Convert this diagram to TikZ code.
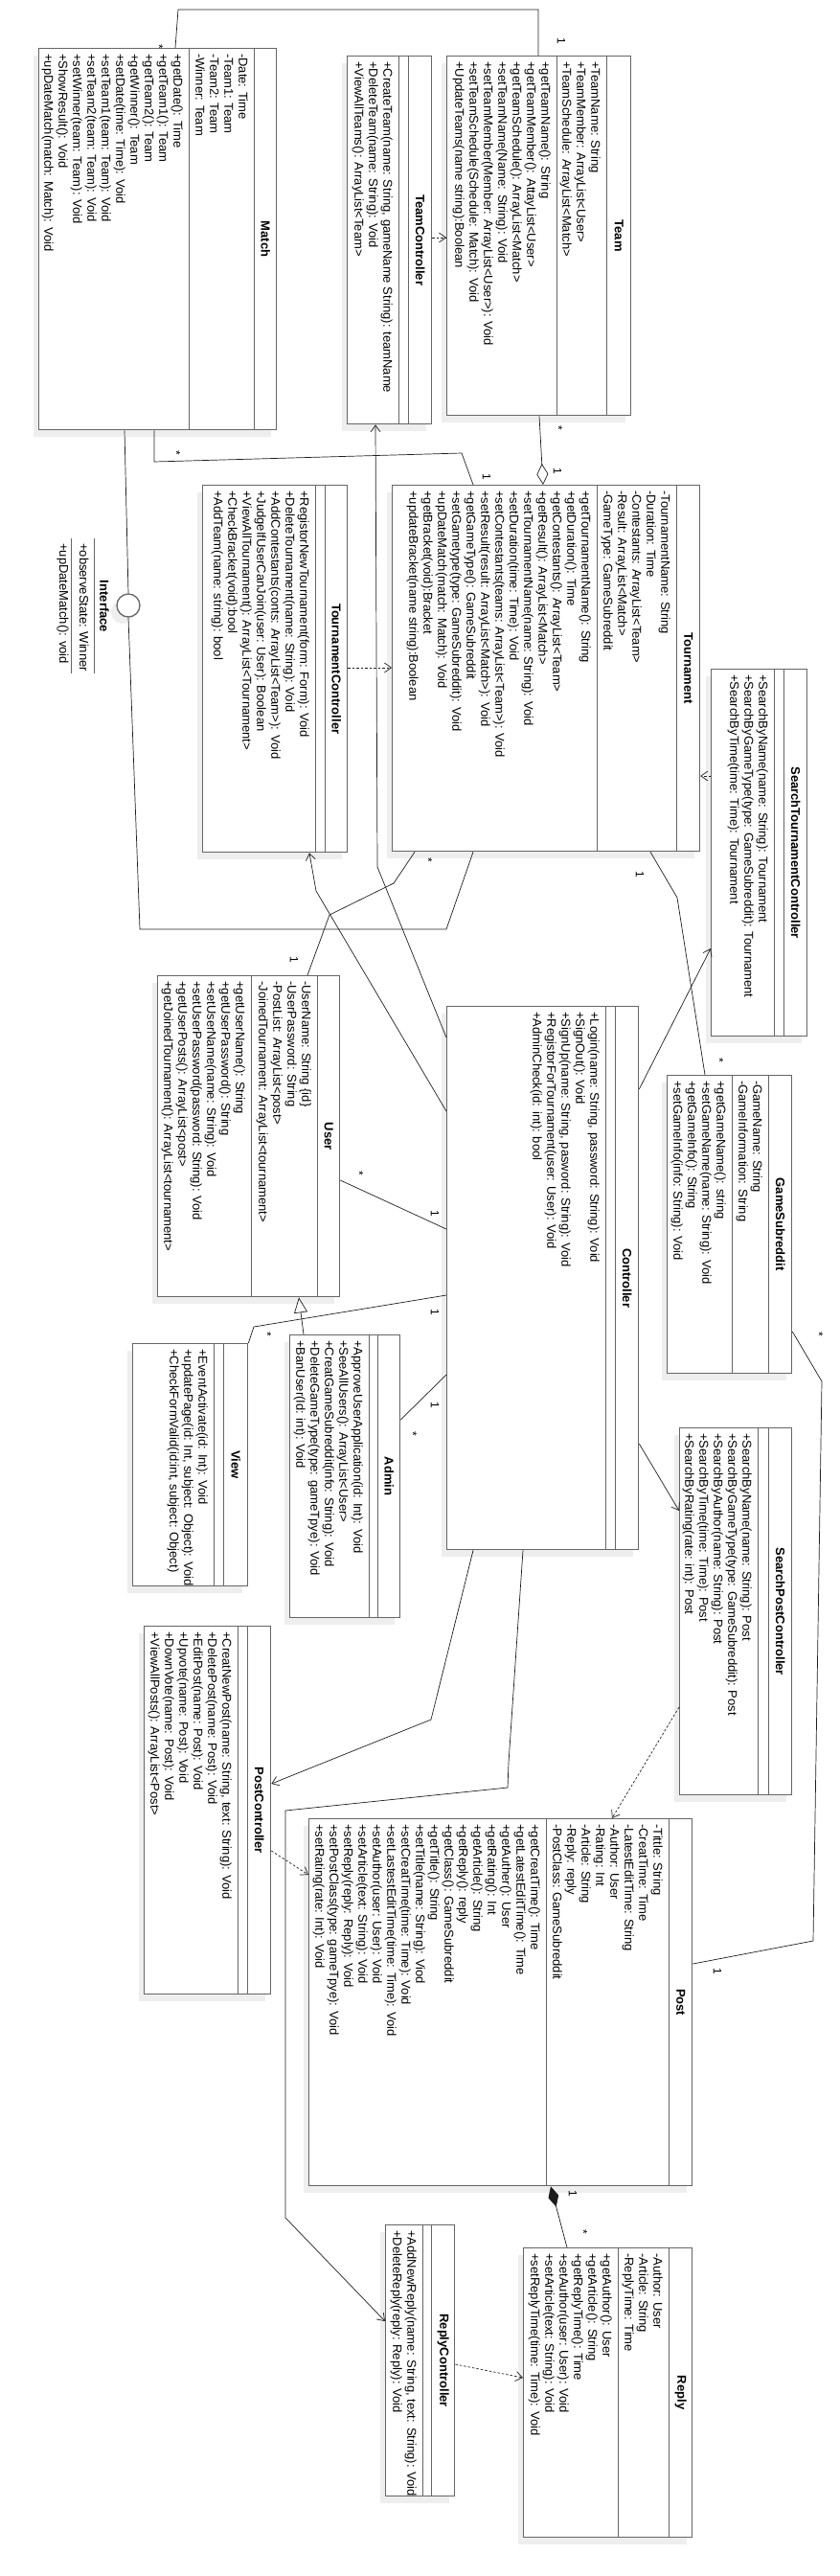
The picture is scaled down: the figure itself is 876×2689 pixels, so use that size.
\documentclass[tikz,border=0pt]{standalone}
\usepackage{fontspec}
\setmainfont{Liberation Sans}
\usetikzlibrary{arrows.meta,calc}

\definecolor{boxline}{HTML}{666666}
\definecolor{boxshade}{HTML}{EEEEEE}
\definecolor{wire}{HTML}{1E1E1E}

% one column of compartment text, rows 15pt apart
\newcommand\ml[1]{\begin{tabular}[t]{@{}l@{}}#1\end{tabular}}
% #1 node, #2 header width, #3 attribute width, #4 name, #5 attributes, #6 operations
\newcommand\umlparts[6]{%
  \draw[sep] ($(#1.north east)+(-#2,0)$) -- ($(#1.south east)+(-#2,0)$);
  \draw[sep] ($(#1.north east)+(-#2-#3,0)$) -- ($(#1.south east)+(-#2-#3,0)$);
  \node[ttl] (#1-name) at ($(#1.east)+(-#2/2,0)$) {#4};
  \node[mem] (#1-attr) at ($(#1.north east)+(-#2-16,-6)$) {\ml{#5}};
  \node[mem] (#1-ops) at ($(#1.north east)+(-#2-#3-16,-6)$) {\ml{#6}};
}

\begin{document}
\begin{tikzpicture}[
      x=1pt, y=1pt,
      cls/.style ={draw=boxline, line width=1.3pt, fill=white, inner sep=0pt,
                   anchor=north west,
                   preaction={fill=boxshade, draw=none,
                              transform canvas={shift={(-6pt,-7pt)}}}},
      sep/.style ={draw=boxline, line width=1.3pt},
      ttl/.style ={rotate=-90, inner sep=0pt, font=\bfseries\fontsize{13}{15}\selectfont},
      mem/.style ={rotate=-90, anchor=base west, inner sep=0pt,
                   font=\fontsize{13}{15}\selectfont},
      mult/.style={rotate=-90, inner sep=0pt, font=\fontsize{12}{14}\selectfont},
      wire/.style={draw=wire, line width=0.7pt},
      nav/.style ={wire, -{Straight Barb[length=7pt,width=10pt]}},
      dep/.style ={nav, dash pattern=on 2.5pt off 2pt}
    ]
    \useasboundingbox (0,0) rectangle (876,-2689);

    % classes
    \node[cls, minimum width=248, minimum height=398] (match) at (40,-50) {};
    \umlparts{match}{24}{68}{Match}
      {-Date: Time\\-Team1: Team\\-Team2: Team\\-Winner: Team}
      {+getDate(): Time\\+getTeam1(): Team\\+getTeam2(): Team\\+getWinner(): Team\\
       +setDate(time: Time): Void\\+setTeam1(team: Team): Void\\+setTeam2(team: Team): Void\\
       +setWinner(team: Team): Void\\+ShowResult(): Void\\+upDateMatch(match: Match): Void}

    \node[cls, minimum width=88, minimum height=384] (teamctl) at (362,-58) {};
    \umlparts{teamctl}{25}{10}{TeamController}{}
      {+CreateTeam(name: String, gameName String): teamName\\
       +DeleteTeam(name: String): Void\\+ViewAllTeams(): ArrayList<Team>}

    \node[cls, minimum width=192, minimum height=375] (team) at (466,-58) {};
    \umlparts{team}{26}{52}{Team}
      {+TeamName: String\\+TeamMember: ArrayList<User>\\+TeamSchedule: ArrayList<Match>}
      {+getTeamName(): String\\+getTeamMember(): AttayList<User>\\
       +getTeamSchedule(): ArrayList<Match>\\+setTeamName(Name: String): Void\\
       +setTeamMember(Member: ArrayList<User>): Void\\
       +setTeamSchedule(Schedule: Match): Void\\+UpdateTeams(name string):Boolean}

    \node[cls, minimum width=151, minimum height=383] (tournctl) at (211,-506) {};
    \umlparts{tournctl}{24}{10}{TournamentController}{}
      {+RegistorNewTournament(form: Form): Void\\+DeleteTournament(name: String): Void\\
       +AddContestants(conts: ArrayList<Team>): Void\\
       +JudgeIfUserCanJoin(user: User): Boolean\\
       +ViewAllTournament(): ArrayList<Tournament>\\+CheckBracket(void):bool\\
       +AddTeam(name: string): bool}

    \node[cls, minimum width=321, minimum height=382] (tourn) at (409,-506) {};
    \umlparts{tourn}{25}{83}{Tournament}
      {-TournamentName: String\\-Duration: Time\\-Contestants: ArrayList<Team>\\
       -Result: ArrayList<Match>\\-GameType: GameSubreddit}
      {+getTournamentName(): String\\+getDuration(): Time\\
       +getContestants(): ArrayList<Team>\\+getResult(): ArrayList<Match>\\
       +setTournamentName(name: String): Void\\+setDuration(time: Time): Void\\
       +setContestants(teams: ArrayList<Team>): Void\\
       +setResult(result: ArrayList<Match>): Void\\+getGameType(): GameSubreddit\\
       +setGametype(type: GameSubreddit): Void\\+upDateMatch(match: Match): Void\\
       +getBracket(void):Bracket\\+updateBracket(name string):Boolean}

    \node[cls, minimum width=100, minimum height=383] (stctl) at (742,-698) {};
    \umlparts{stctl}{25}{10}{SearchTournamentController}{}
      {+SearchByName(name: String): Tournament\\
       +SearchByGameType(type: GameSubreddit): Tournament\\
       +SearchByTime(time: Time): Tournament}

    \node[cls, minimum width=200, minimum height=567] (ctl) at (466,-1050) {};
    \umlparts{ctl}{25}{10}{Controller}{}
      {+Login(name: String, password: String): Void\\+SignOut(): Void\\
       +SignUp(name: String, pasword: String): Void\\
       +RegistorForTournament(user: User): Void\\+AdminCheck(id: int): bool}

    \node[cls, minimum width=190, minimum height=335] (user) at (164,-1018) {};
    \umlparts{user}{24}{69}{User}
      {-UserName: String \{id\}\\-UserPassword: String\\-PostList: ArrayList<post>\\
       -JoinedTournament: ArrayList<tournament>}
      {+getUserName(): String\\+getUserPassword(): String\\
       +setUserName(name: String): Void\\+setUserPassword(password: String): Void\\
       +getUserPosts(): ArrayList<post>\\+getJoinedTournament(): ArrayList<tournament>}

    \node[cls, minimum width=130, minimum height=311] (game) at (696,-1122) {};
    \umlparts{game}{25}{38}{GameSubreddit}
      {-GameName: String\\-GameInformation: String}
      {+getGameName(): string\\+setGameName(name: String): Void\\
       +getGameInfo(): String\\+setGameInfo(info: String): Void}

    \node[cls, minimum width=120, minimum height=253] (view) at (138,-1402) {};
    \umlparts{view}{26}{10}{View}{}
      {+EventActivate(id: Int): Void\\+updatePage(id: Int, subject: Object): Void\\
       +CheckFormValid(id:int, subject: Object)}

    \node[cls, minimum width=115, minimum height=295] (admin) at (302,-1393) {};
    \umlparts{admin}{24}{9}{Admin}{}
      {+ApproveUserApplication(id: Int): Void\\+SeeAllUsers(): ArrayList<User>\\
       +CreatGameSubreddit(info: String): Void\\+DeleteGameType(type: gameTpye): Void\\
       +BanUser(Id: int): Void}

    \node[cls, minimum width=117, minimum height=383] (spctl) at (709,-1490) {};
    \umlparts{spctl}{25}{11}{SearchPostController}{}
      {+SearchByName(name: String): Post\\+SearchByGameType(type: GameSubreddit): Post\\
       +SearchByAuthor(name: String): Post\\+SearchByTime(time: Time): Post\\
       +SearchByRating(rate: int): Post}

    \node[cls, minimum width=132, minimum height=384] (pctl) at (150,-1697) {};
    \umlparts{pctl}{25}{10}{PostController}{}
      {+CreatNewPost(name: String, text: String): Void\\+DeletePost(name: Post): Void\\
       +EditPost(name: Post): Void\\+Upvote(name: Post): Void\\
       +DownVote(name: Post): Void\\+ViewAllPosts(): ArrayList<Post>}

    \node[cls, minimum width=400, minimum height=383] (post) at (322,-1898) {};
    \umlparts{post}{25}{128}{Post}
      {-Tittle: String\\-CreatTime: Time\\-LatestEditTime: String\\-Author: User\\
       -Rating: Int\\-Article: String\\-Reply: reply\\-PostClass: GameSubreddit}
      {+getCreatTime(): Time\\+getLatestEditTime(): Time\\+getAuther(): User\\
       +getRating(): Int\\+getArticle(): String\\+getReply(): reply\\
       +getClass(): GameSubreddit\\+getTitle(): String\\+setTitle(name: String): Viod\\
       +setCreatTime(time: Time): Void\\+setLastestEditTime(time: Time): Void\\
       +setAuthor(user: User): Void\\+setArticle(text: String): Void\\
       +setReply(reply: Reply): Void\\+setPostClass(type: gameTpye): Void\\
       +setRating(rate: Int): Void}

    \node[cls, minimum width=72, minimum height=283] (rctl) at (402,-2322) {};
    \umlparts{rctl}{25}{9}{ReplyController}{}
      {+AddNewReply(name: String, text: String): Void\\+DeleteReply(reply: Reply): Void}

    \node[cls, minimum width=176, minimum height=302] (reply) at (546,-2346) {};
    \umlparts{reply}{25}{53}{Reply}
      {-Author: User\\-Article: String\\-ReplyTime: Time}
      {+getAuthor(): User\\+getArticle(): String\\+getReplyTime(): Time\\
       +setAuthor(user: User): Void\\+setArticle(text: String): Void\\
       +setReplyTime(time: Time): Void}

    % interface lollipop
    \node[cls, anchor=center, circle, minimum size=24] (iface) at (134,-632) {};
    \node[ttl] (iface-name) at (109,-633) {Interface};
    \draw[sep, line width=1pt] (98,-562) -- (98,-703);
    \node[mem] (iface-attr) at (83,-567) {+observeState: Winner};
    \draw[sep, line width=1pt] (74,-562) -- (74,-703);
    \node[mem] (iface-ops) at (62,-567) {+upDateMatch(): void};

    % associations
    \draw[wire] ($(match.north west)+(143,0)$) -- (186,-10) -- (562,-10)
          -- ($(team.north west)+(96,0)$);
    \draw[wire] ($(match.south west)+(121,0)$) -- (161,-482) -- (482,-473)
          -- ($(tourn.north west)+(85,0)$);
    \draw[wire] ($(match.south west)+(90,0)$) -- (iface.north);
    \draw[wire] (iface.south) -- (146,-970) -- (466,-970)
          -- ($(tourn.south west)+(85,0)$);
    \draw[wire, {Diamond[open,length=22pt,width=12pt]}-]
          ($(tourn.north west)+(158,0)$) -- ($(team.south west)+(97,0)$);
    \draw[wire] ($(tourn.south west)+(24,0)$) -- (411,-922) -- (344,-955)
          -- ($(user.north west)+(157,0)$);
    \draw[wire] ($(tourn.south west)+(270,0)$) -- (707,-937)
          -- ($(game.north west)+(40,0)$);
    \draw[wire] ($(user.north east)+(0,-214)$) -- ($(ctl.north west)+(0,-233)$);
    \draw[wire] ($(ctl.north west)+(0,-302)$) -- (265,-1385) -- (view.north east);
    \draw[wire] ($(admin.north east)+(0,-89)$) -- ($(ctl.north west)+(0,-385)$);
    \draw[wire, -{Triangle[open,length=16pt,width=14pt]}]
          ($(admin.north west)+(15,0)$) -- ($(user.south west)+(148,0)$);
    \draw[wire] ($(game.north east)+(0,-268)$) -- (858,-1442) -- (849,-2026)
          -- ($(post.north east)+(0,-152)$);
    \draw[wire, {Diamond[length=22pt,width=11pt]}-]
          ($(post.south west)+(253,0)$) -- ($(reply.north west)+(46,0)$);

    % controller navigation
    \draw[nav] ($(ctl.north west)+(0,-33)$) -- (394,-905)
          -- ($(teamctl.south west)+(30,0)$);
    \draw[nav] ($(ctl.north west)+(0,-110)$) -- (330,-930)
          -- ($(tournctl.south west)+(112,0)$);
    \draw[nav] ($(ctl.north east)+(0,-87)$) -- ($(stctl.north west)+(0,-292)$);
    \draw[nav] ($(ctl.north east)+(0,-457)$) -- ($(spctl.north west)+(0,-87)$);
    \draw[nav] ($(ctl.south west)+(28,0)$) -- (450,-1795)
          -- ($(pctl.north east)+(0,-165)$);
    \draw[nav] ($(ctl.south west)+(80,0)$) -- (531,-1840) -- (530,-1866)
          -- (298,-1890) -- (298,-2315) -- ($(rctl.north west)+(0,-101)$);

    % dependencies
    \draw[dep] ($(teamctl.north east)+(0,-190)$) -- ($(team.north west)+(0,-190)$);
    \draw[dep] ($(tournctl.north east)+(0,-191)$) -- ($(tourn.north west)+(0,-191)$);
    \draw[dep] ($(stctl.north west)+(0,-112)$) -- ($(tourn.north east)+(0,-304)$);
    \draw[dep] ($(spctl.north west)+(0,-292)$) -- ($(post.north west)+(317,0)$);
    \draw[dep] ($(pctl.north east)+(0,-235)$) -- ($(post.north west)+(0,-59)$);
    \draw[dep] ($(rctl.north east)+(0,-146)$) -- ($(reply.north west)+(0,-136)$);

    % multiplicities
    \node[mult] (m-match-team)  at (166,-49)   {*};
    \node[mult] (m-team-match)  at (586,-43)   {1};
    \node[mult] (m-match-tourn) at (184,-473)  {*};
    \node[mult] (m-tourn-match) at (508,-498)  {1};
    \node[mult] (m-tourn-team)  at (582,-492)  {1};
    \node[mult] (m-team-tourn)  at (583,-447)  {*};
    \node[mult] (m-tourn-user)  at (447,-898)  {*};
    \node[mult] (m-user-tourn)  at (307,-1002) {1};
    \node[mult] (m-tourn-game)  at (668,-913)  {1};
    \node[mult] (m-game-tourn)  at (751,-1107) {*};
    \node[mult] (m-user-ctl)    at (375,-1225) {*};
    \node[mult] (m-ctl-user)    at (454,-1267) {1};
    \node[mult] (m-ctl-view)    at (454,-1370) {1};
    \node[mult] (m-view-ctl)    at (279,-1393) {*};
    \node[mult] (m-ctl-admin)   at (454,-1467) {1};
    \node[mult] (m-admin-ctl)   at (431,-1497) {*};
    \node[mult] (m-game-post)   at (855,-1393) {*};
    \node[mult] (m-post-game)   at (749,-2058) {1};
    \node[mult] (m-post-reply)  at (598,-2290) {1};
    \node[mult] (m-reply-post)  at (609,-2330) {*};
\end{tikzpicture}
\end{document}
